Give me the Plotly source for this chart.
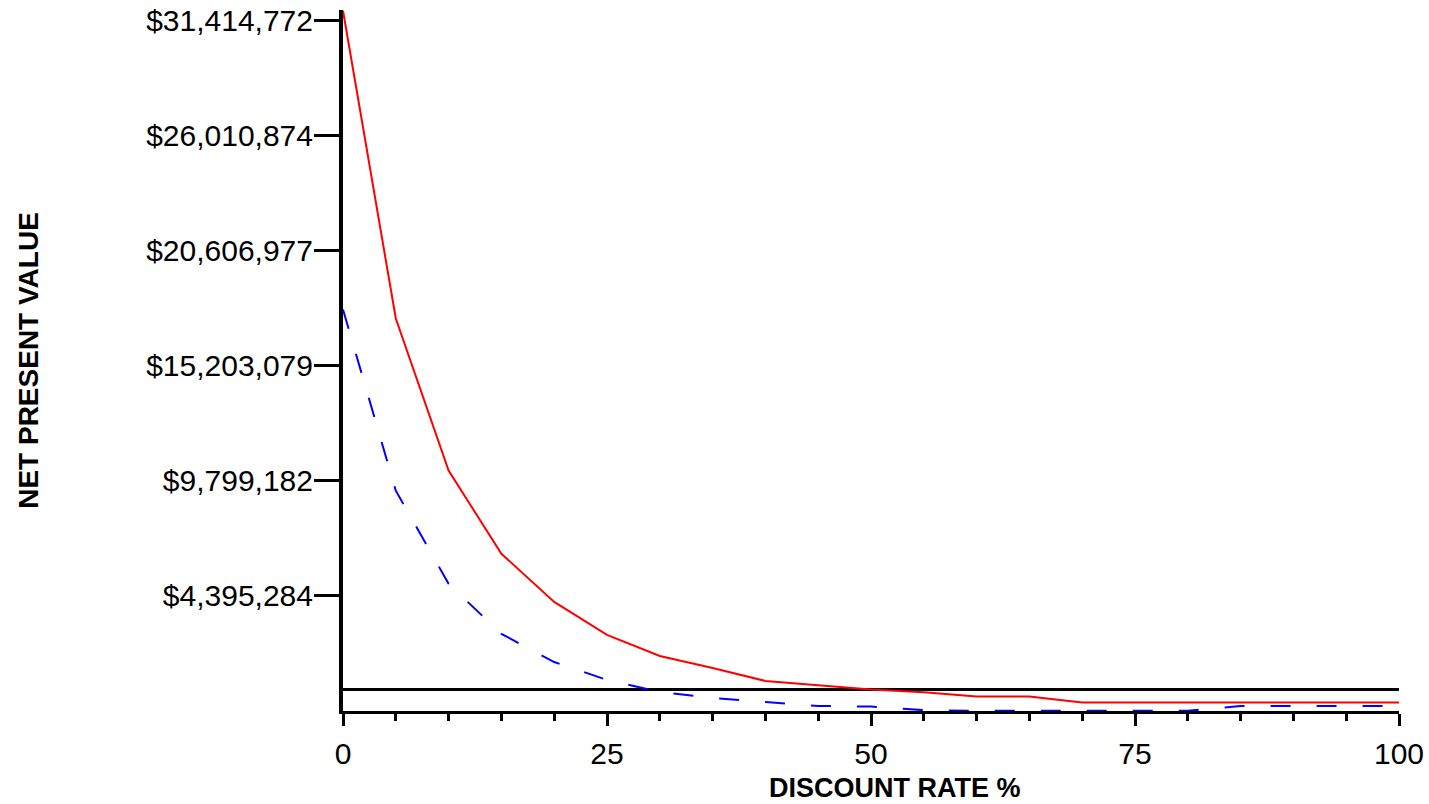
import plotly.graph_objects as go

rates = [0, 5, 10, 15, 20, 25, 30, 35, 40, 45, 50, 55, 60, 65, 70, 75, 80, 85, 90, 95, 100]
npv_red = [31850000, 17410000, 10270000, 6370000, 4110000, 2560000, 1570000, 1010000, 400000, 210000,
           0, -130000, -330000, -330000, -610000, -610000, -610000, -610000, -610000, -610000, -610000]
npv_blue = [17830000, 9330000, 4960000, 2610000, 1290000, 450000, -120000, -400000, -590000, -770000,
            -800000, -970000, -1000000, -1000000, -1000000, -1000000, -1000000, -770000, -770000, -770000, -770000]
ytick_vals = [4395284, 9799182, 15203079, 20606977, 26010874, 31414772]
ytick_text = ["$4,395,284", "$9,799,182", "$15,203,079", "$20,606,977", "$26,010,874", "$31,414,772"]
y_min = -1008614
y_max = 31884000

FONT = "Liberation Sans, Arial, sans-serif"

fig = go.Figure()
fig.add_trace(go.Scatter(x=rates, y=npv_blue, mode="lines",
                         line=dict(color="#0000ff", width=2, dash="20px,26px"), showlegend=False))
fig.add_trace(go.Scatter(x=rates, y=npv_red, mode="lines",
                         line=dict(color="#ff0000", width=2), showlegend=False))

fig.update_layout(
    width=1429, height=804,
    margin=dict(l=343, r=30, t=10, b=93, autoexpand=False),
    paper_bgcolor="white", plot_bgcolor="white",
    font=dict(family=FONT, color="black", size=30),
    xaxis=dict(range=[0, 100], tickvals=[0, 25, 50, 75, 100], ticktext=["0", "25", "50", "75", "100"],
               automargin=False,
               showgrid=False, zeroline=False, showline=True, linecolor="black", linewidth=3,
               ticks="outside", ticklen=12, tickwidth=3, tickcolor="black",
               tickfont=dict(size=30, family=FONT), ticklabelstandoff=2, ticklabeloverflow="allow",
               minor=dict(dtick=5, tick0=0, ticks="outside", ticklen=7, tickwidth=3, tickcolor="black", showgrid=False)),
    yaxis=dict(range=[y_min, y_max], tickvals=ytick_vals, ticktext=ytick_text,
               automargin=False,
               showgrid=False, zeroline=True, zerolinecolor="black", zerolinewidth=3,
               showline=True, linecolor="black", linewidth=4,
               ticks="outside", ticklen=25, tickwidth=3, tickcolor="black",
               tickfont=dict(size=30, family=FONT), ticklabelstandoff=-5, ticklabeloverflow="allow"),
    annotations=[
        dict(text="<b>DISCOUNT RATE %</b>", xref="paper", yref="paper", x=0.5227, y=-0.1098,
             xanchor="center", yanchor="middle", showarrow=False, font=dict(size=27, family=FONT)),
        dict(text="<b>NET PRESENT VALUE</b>", xref="paper", yref="paper", x=-0.298, y=0.5,
             xanchor="center", yanchor="middle", textangle=-90, showarrow=False, font=dict(size=28, family=FONT)),
    ],
)

fig.write_html("out.html", config={"displayModeBar": False},
               post_script="document.body.style.margin='0';document.body.style.overflow='hidden';"
                           "document.documentElement.style.overflow='hidden';")
